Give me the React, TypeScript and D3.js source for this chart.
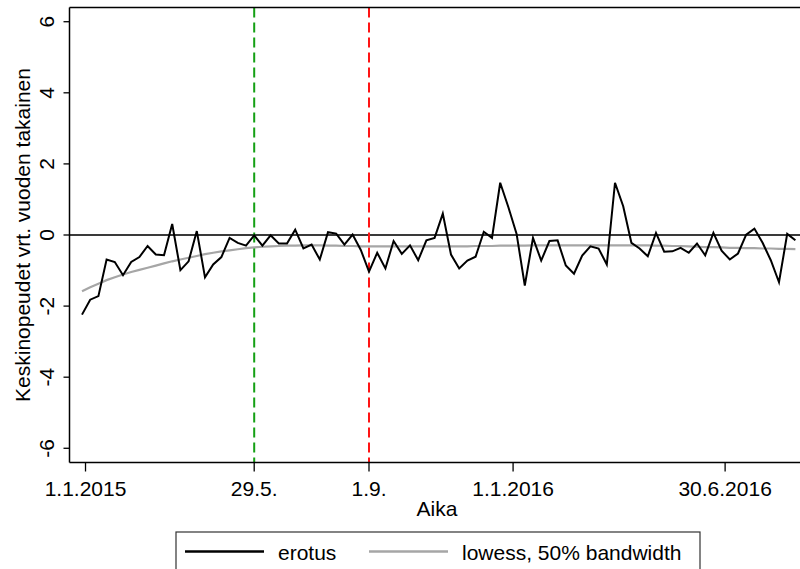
import React from "react";
import * as d3 from "d3";

// Weekly series, first week starts Monday 29.12.2014
const firstWeek = "2014-12-29";
const erotus = [
  -2.24, -1.82, -1.72, -0.69, -0.76, -1.13, -0.76, -0.62, -0.31, -0.55,
  -0.57, 0.31, -0.99, -0.74, 0.11, -1.19, -0.83, -0.62, -0.08, -0.22,
  -0.3, -0.01, -0.3, -0.01, -0.24, -0.24, 0.15, -0.38, -0.27, -0.69,
  0.08, 0.04, -0.27, 0.01, -0.42, -1.03, -0.5, -0.94, -0.17, -0.53,
  -0.29, -0.71, -0.15, -0.08, 0.6, -0.55, -0.94, -0.72, -0.61, 0.09,
  -0.08, 1.47, 0.78, 0.03, -1.42, -0.08, -0.72, -0.17, -0.15, -0.86,
  -1.09, -0.58, -0.32, -0.38, -0.83, 1.47, 0.81, -0.22, -0.38, -0.6,
  0.06, -0.47, -0.46, -0.36, -0.5, -0.24, -0.57, 0.06, -0.44, -0.69,
  -0.52, 0.01, 0.18, -0.22, -0.71, -1.33, 0.03, -0.15,
];
const lowess = [
  -1.58, -1.47, -1.37, -1.27, -1.19, -1.11, -1.04, -0.98, -0.92, -0.86,
  -0.8, -0.74, -0.69, -0.64, -0.59, -0.54, -0.5, -0.46, -0.43, -0.4,
  -0.37, -0.35, -0.33, -0.32, -0.31, -0.3, -0.3, -0.29, -0.29, -0.29,
  -0.3, -0.3, -0.31, -0.31, -0.32, -0.32, -0.32, -0.32, -0.32, -0.32,
  -0.32, -0.32, -0.32, -0.32, -0.32, -0.32, -0.32, -0.32, -0.31, -0.31,
  -0.31, -0.3, -0.3, -0.3, -0.3, -0.29, -0.29, -0.29, -0.29, -0.29,
  -0.29, -0.29, -0.29, -0.29, -0.29, -0.29, -0.29, -0.29, -0.29, -0.29,
  -0.3, -0.3, -0.31, -0.31, -0.32, -0.33, -0.34, -0.34, -0.35, -0.36,
  -0.36, -0.37, -0.37, -0.38, -0.38, -0.39, -0.39, -0.4,
];
const xTickDates = ["2015-01-01", "2015-05-25", "2015-08-31", "2016-01-01", "2016-06-30"];
const xTickLabels = ["1.1.2015", "29.5.", "1.9.", "1.1.2016", "30.6.2016"];
const yTicks = [-6, -4, -2, 0, 2, 4, 6];
const vLineDates = ["2015-05-25", "2015-08-31"];
const vLineColors = ["#14a014", "#ff1414"];
const legendLabels = ["erotus", "lowess, 50% bandwidth"];

const W = 800;
const H = 569;
const FONT = "'Liberation Sans', Arial, Helvetica, sans-serif";

export default function App() {
  const parse = d3.timeParse("%Y-%m-%d");
  const start = parse(firstWeek) as Date;
  const dates = erotus.map((_, i) => d3.timeDay.offset(start, 7 * i));

  const plotLeft = 69.5;
  const plotTop = 7.5;
  const plotBottom = 462.5;
  const plotRight = 806;

  const x = d3.scaleTime().domain([dates[0], dates[dates.length - 1]]).range([82, 795.4]);
  const y = d3.scaleLinear().domain([-6.4, 6.4]).range([plotBottom, plotTop]);

  const lineGen = d3
    .line<number>()
    .x((_, i) => x(dates[i]))
    .y((d) => y(d));

  const fs = 21;

  return (
    <svg
      width={W}
      height={H}
      style={{ position: "absolute", left: 0, top: 0, background: "#fff" }}
      fontFamily={FONT}
    >
      <rect x={0} y={0} width={W} height={H} fill="#fff" />
      <defs>
        <clipPath id="plotclip">
          <rect x={plotLeft} y={plotTop} width={plotRight - plotLeft} height={plotBottom - plotTop} />
        </clipPath>
      </defs>

      {/* zero line */}
      <line x1={plotLeft} x2={plotRight} y1={y(0)} y2={y(0)} stroke="#3a3a3a" strokeWidth={1.8} />

      {/* vertical event lines */}
      {vLineDates.map((d, i) => (
        <line
          key={d}
          x1={x(parse(d) as Date)}
          x2={x(parse(d) as Date)}
          y1={plotTop}
          y2={plotBottom}
          stroke={vLineColors[i]}
          strokeWidth={2}
          strokeDasharray="10,5"
        />
      ))}

      <g clipPath="url(#plotclip)">
        <path d={lineGen(lowess) || ""} fill="none" stroke="#a6a6a6" strokeWidth={2.2} />
        <path d={lineGen(erotus) || ""} fill="none" stroke="#000" strokeWidth={2} strokeLinejoin="miter" />
      </g>

      {/* frame */}
      <line x1={plotLeft} x2={plotRight} y1={plotTop} y2={plotTop} stroke="#000" strokeWidth={1.5} />
      <line x1={plotLeft} x2={plotLeft} y1={plotTop} y2={plotBottom} stroke="#000" strokeWidth={1.5} />
      <line x1={plotLeft} x2={plotRight} y1={plotBottom} y2={plotBottom} stroke="#000" strokeWidth={1.5} />

      {/* y axis ticks and labels */}
      {yTicks.map((t) => (
        <g key={t}>
          <line x1={plotLeft - 6} x2={plotLeft} y1={y(t)} y2={y(t)} stroke="#000" strokeWidth={1.3} />
          <text
            transform={`translate(54,${y(t)}) rotate(-90)`}
            textAnchor="middle"
            fontSize={fs}
            fill="#000"
          >
            {t}
          </text>
        </g>
      ))}
      <text
        transform={`translate(29.5,${(plotTop + plotBottom) / 2}) rotate(-90)`}
        textAnchor="middle"
        fontSize={fs}
        fill="#000"
      >
        Keskinopeudet vrt. vuoden takainen
      </text>

      {/* x axis ticks and labels */}
      {xTickDates.map((d, i) => {
        const px = x(parse(d) as Date);
        return (
          <g key={d}>
            <line x1={px} x2={px} y1={plotBottom} y2={plotBottom + 9} stroke="#000" strokeWidth={1.3} />
            <text x={px} y={496} textAnchor="middle" fontSize={fs} fill="#000">
              {xTickLabels[i]}
            </text>
          </g>
        );
      })}
      <text x={437} y={516} textAnchor="middle" fontSize={fs} fill="#000">
        Aika
      </text>

      {/* legend */}
      <rect x={176} y={532} width={524} height={60} fill="#fff" stroke="#333" strokeWidth={1.2} />
      <line x1={185} x2={264} y1={551.5} y2={551.5} stroke="#000" strokeWidth={2.5} />
      <text x={278} y={560} fontSize={fs} fill="#000">
        {legendLabels[0]}
      </text>
      <line x1={369} x2={448} y1={551.5} y2={551.5} stroke="#a6a6a6" strokeWidth={2.5} />
      <text x={462} y={560} fontSize={fs} fill="#000">
        {legendLabels[1]}
      </text>
    </svg>
  );
}
